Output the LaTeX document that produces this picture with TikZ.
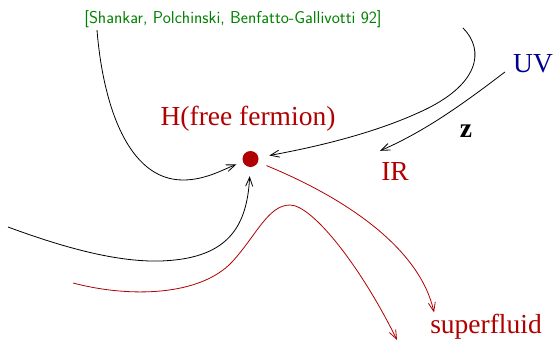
\documentclass[tikz,border=0pt]{standalone}
\usepackage{fontspec}
\setmainfont{Liberation Serif}
\usetikzlibrary{arrows.meta}
\definecolor{darkred}{RGB}{176,0,0}
\definecolor{uvblue}{RGB}{0,0,144}
\definecolor{citegreen}{RGB}{0,128,0}
\tikzset{
  bigtext/.style={font=\fontsize{27.5}{30}\selectfont, inner sep=1pt, anchor=base},
  citetext/.style={font=\sffamily\fontsize{17.2}{20}\selectfont, text=citegreen, inner sep=1pt, anchor=base},
  flow/.style={-{Straight Barb[length=9pt,width=7pt]}, line width=0.8pt},
  redflow/.style={flow, draw=darkred},
  fixedpoint/.style={circle, fill=darkred, minimum size=16pt, inner sep=0pt}
}

\begin{document}
\begin{tikzpicture}[x=1pt, y=-1pt]
\useasboundingbox (0,0) rectangle (554,343);
\node[citetext] (cite) at (233,23) {[Shankar, Polchinski, Benfatto-Gallivotti 92]};
\node[bigtext, text=darkred] (hff) at (248,125) {H(free fermion)};
\node[fixedpoint] (fp) at (250.5,159) {};
\node[bigtext, text=uvblue] (uv) at (533,72) {UV};
\node[bigtext, text=darkred] (ir) at (395,180) {IR};
\node[bigtext] (z) at (466,137) {\textbf{z}};
\node[bigtext, text=darkred] (sf) at (486,333) {superfluid};

\coordinate (tl) at (97,30);
\coordinate (tr) at (463,28);
\coordinate (bl) at (8,227);
\coordinate (rl) at (73,283);
\coordinate (rend) at (397,340);

\draw[flow, shorten >=7pt] (tl) .. controls (103,105) and (128,180) .. (183,180) .. controls (205,180) and (222,170) .. (fp);
\draw[flow, shorten >=11pt] (tr) .. controls (485,50) and (480,85) .. (420,112) .. controls (370,135) and (310,148) .. (fp);
\draw[flow] ([xshift=-7pt]uv.base west) .. controls (468,100) and (428,130) .. ([yshift=10pt]ir.north west);
\draw[flow, shorten >=9pt] (bl) .. controls (70,250) and (120,262) .. (160,261) .. controls (225,259) and (247,230) .. (fp);
\draw[redflow, shorten <=9pt] (fp) .. controls (350,200) and (420,250) .. ([xshift=5pt]sf.north west);
\draw[redflow] (rl) .. controls (130,298) and (200,296) .. (232,262) .. controls (256,236) and (268,205) .. (290,205) .. controls (312,205) and (360,265) .. (rend);
\end{tikzpicture}
\end{document}
